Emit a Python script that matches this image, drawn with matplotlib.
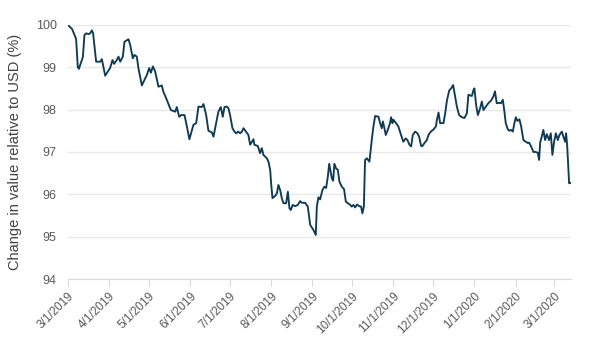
import datetime as dt
import matplotlib
matplotlib.use("Agg")
import matplotlib.pyplot as plt
import matplotlib.dates as mdates

plt.rcParams['font.family'] = ['Liberation Sans Narrow', 'Liberation Sans', 'DejaVu Sans']

start = dt.date(2019, 3, 1)

# days after 3/1/2019
day = [0, 3.2, 6.2, 7.5, 8.3, 11.3, 12.5, 13.8, 15.5, 16.8, 18.1, 19.0, 21.3, 24.3, 25.6,
       28.1, 31.8, 33.6, 34.8, 36.9, 38.1, 39.4, 41.4, 42.6, 45.6, 46.9, 48.9, 50.1, 51.9,
       53.1, 55.7, 59.5, 61.2, 62.5, 64.0, 65.7, 68.2, 70.7, 71.9, 74.5, 77.5, 80.8, 82.0,
       83.8, 85.3, 87.8, 89.6, 91.5, 94.5, 96.6, 98.3, 100.8, 102.1, 104.1, 105.8, 108.4,
       109.6, 111.6, 113.3, 115.1, 116.6, 117.9, 119.7, 120.9, 122.1, 123.9, 125.4, 126.7,
       128.2, 129.7, 131.0, 132.2, 134.0, 135.9, 137.2, 138.5, 139.7, 140.4, 143.0, 144.7,
       146.0, 147.2, 149.8, 151.0, 152.3, 153.0, 154.0, 156.0, 157.3, 158.5, 159.8, 161.1,
       162.3, 164.3, 165.6, 166.8, 167.8, 169.3, 171.1, 173.1, 174.8, 176.1, 178.6, 180.6,
       182.4, 184.8, 186.6, 187.4, 188.6, 189.9, 191.6, 193.1, 194.4, 195.7, 196.7, 198.7,
       199.7, 200.6, 201.9, 203.2, 204.4, 206.2, 207.9, 209.2, 210.7, 212.2, 213.7, 215.0,
       216.2, 217.7, 219.2, 220.7, 221.7, 222.8, 223.7, 225.0, 227.0, 228.8, 230.0, 231.3,
       233.8, 235.0, 236.3, 237.1, 238.0, 239.3, 240.8, 242.5, 243.3, 244.3, 245.0, 246.8,
       248.8, 250.8, 252.5, 254.3, 255.6, 257.1, 258.4, 259.6, 261.4, 263.1, 264.4, 265.9,
       266.9, 268.4, 270.2, 271.4, 273.2, 275.2, 277.0, 277.8, 279.0, 280.2, 282.7, 284.0,
       285.2, 287.0, 288.5, 290.0, 291.5, 292.8, 294.5, 296.5, 298.5, 300.3, 301.5, 304.1,
       305.3, 306.0, 307.3, 308.6, 310.3, 311.6, 312.8, 314.6, 316.5, 318.5, 320.3, 321.5,
       322.8, 324.5, 326.0, 327.4, 328.6, 329.6, 331.2, 332.3, 333.6, 334.9, 336.1, 337.2,
       338.4, 339.9, 341.2, 342.9, 344.7, 346.2, 347.2, 348.7, 350.4, 352.1, 353.7, 354.7,
       355.5, 356.7, 357.9, 359.2, 360.5, 362.2, 363.5, 364.7, 366.0, 367.3, 368.8, 370.0,
       371.8, 373.0, 374.3, 375.0, 375.8, 377.3, 378.3]

value = [100.00, 99.90, 99.67, 99.00, 98.96, 99.24, 99.76, 99.80, 99.78, 99.80, 99.87, 99.80,
         99.13, 99.13, 99.19, 98.80, 98.98, 99.17, 99.08, 99.17, 99.25, 99.13, 99.25, 99.60,
         99.66, 99.53, 99.21, 99.29, 99.25, 98.98, 98.57, 98.82, 98.98, 98.87, 99.02, 98.90,
         98.54, 98.57, 98.42, 98.23, 97.99, 97.95, 98.06, 97.83, 97.87, 97.87, 97.60, 97.30,
         97.64, 97.68, 98.07, 98.06, 98.13, 97.87, 97.50, 97.46, 97.36, 97.68, 97.95, 98.06,
         97.83, 98.06, 98.07, 98.03, 97.87, 97.56, 97.48, 97.44, 97.48, 97.44, 97.48, 97.56,
         97.48, 97.40, 97.17, 97.24, 97.30, 97.17, 97.14, 96.97, 97.09, 96.93, 96.85, 96.77,
         96.57, 96.26, 95.91, 95.96, 96.02, 96.22, 96.10, 95.90, 95.79, 95.79, 96.06, 95.67,
         95.63, 95.75, 95.72, 95.75, 95.84, 95.80, 95.80, 95.71, 95.28, 95.16, 95.04, 95.71,
         95.93, 95.88, 96.10, 96.18, 96.15, 96.42, 96.72, 96.38, 96.32, 96.72, 96.61, 96.58,
         96.30, 96.18, 96.12, 95.83, 95.79, 95.76, 95.71, 95.75, 95.69, 95.76, 95.72, 95.71,
         95.55, 95.71, 96.81, 96.85, 96.77, 97.30, 97.60, 97.85, 97.83, 97.68, 97.56, 97.72,
         97.60, 97.40, 97.52, 97.68, 97.82, 97.68, 97.76, 97.69, 97.60, 97.40, 97.24, 97.32,
         97.28, 97.17, 97.13, 97.40, 97.48, 97.44, 97.36, 97.14, 97.14, 97.21, 97.28, 97.40,
         97.48, 97.53, 97.60, 97.76, 97.93, 97.68, 97.68, 97.91, 98.19, 98.45, 98.50, 98.58,
         98.31, 98.07, 97.87, 97.82, 97.80, 97.91, 98.35, 98.32, 98.46, 98.50, 98.11, 97.87,
         98.03, 98.19, 97.99, 98.07, 98.15, 98.21, 98.31, 98.43, 98.15, 98.16, 98.15, 98.23,
         97.95, 97.68, 97.53, 97.50, 97.52, 97.48, 97.68, 97.82, 97.73, 97.77, 97.60, 97.28,
         97.24, 97.21, 97.22, 97.13, 97.00, 97.00, 96.98, 96.81, 97.22, 97.36, 97.52, 97.28,
         97.42, 97.28, 97.44, 96.93, 97.24, 97.44, 97.28, 97.40, 97.48, 97.36, 97.24, 97.44,
         97.17, 96.26, 96.27]

tick_dates = ['3/1/2019', '4/1/2019', '5/1/2019', '6/1/2019', '7/1/2019', '8/1/2019',
              '9/1/2019', '10/1/2019', '11/1/2019', '12/1/2019', '1/1/2020', '2/1/2020',
              '3/1/2020']
y_ticks = [94, 95, 96, 97, 98, 99, 100]

dates = [mdates.date2num(start) + d for d in day]
tick_pos = [mdates.date2num(dt.datetime.strptime(t, '%m/%d/%Y')) for t in tick_dates]

fig = plt.figure(figsize=(5.9, 3.55), dpi=100)
ax = fig.add_axes([0.115, 0.214, 0.853, 0.716])

ax.plot(dates, value, color='#0f3a55', linewidth=1.35)

ax.set_ylim(94, 100)
ax.set_xlim(mdates.date2num(start), mdates.date2num(start) + 378.8)
ax.set_yticks(y_ticks)
ax.set_xticks(tick_pos)
ax.set_xticklabels(tick_dates, rotation=45, ha='right', va='top', rotation_mode='anchor')

ax.grid(axis='y', color='#e8e8e8', linewidth=1)
ax.set_axisbelow(True)
for s in ['left', 'right', 'top']:
    ax.spines[s].set_visible(False)
ax.spines['bottom'].set_color('#d9d9d9')
ax.tick_params(axis='y', length=0, labelsize=9, labelcolor='#595959', pad=8)
ax.tick_params(axis='x', length=5, color='#d9d9d9', labelsize=8.5, labelcolor='#595959', pad=3)

ax.set_ylabel('Change in value relative to USD (%)', fontsize=10.5, color='#404040', labelpad=10)

fig.savefig('out.png', dpi=100)
